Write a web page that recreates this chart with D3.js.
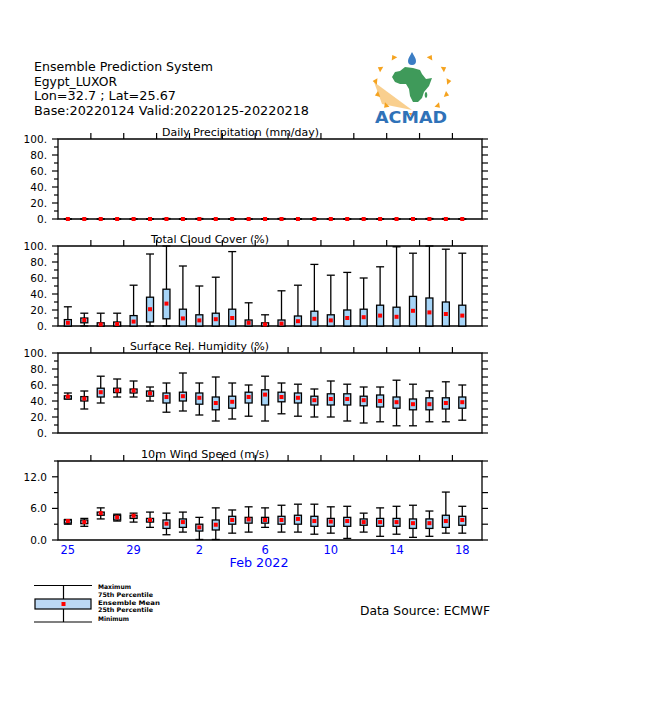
<!DOCTYPE html>
<html>
<head>
<meta charset="utf-8">
<script src="https://cdn.jsdelivr.net/npm/d3@7/dist/d3.min.js"></script>
<style>
  html, body { margin: 0; padding: 0; background: #fff; }
  svg { display: block; }
  text { font-family: "DejaVu Sans", "Liberation Sans", sans-serif; }
</style>
</head>
<body>
<svg id="chart" width="651" height="716"></svg>
<script>
// ---------------- DATA ----------------
const dates = ["2022-01-25","2022-01-26","2022-01-27","2022-01-28","2022-01-29","2022-01-30","2022-01-31",
  "2022-02-01","2022-02-02","2022-02-03","2022-02-04","2022-02-05","2022-02-06","2022-02-07","2022-02-08",
  "2022-02-09","2022-02-10","2022-02-11","2022-02-12","2022-02-13","2022-02-14","2022-02-15","2022-02-16",
  "2022-02-17","2022-02-18"];
const xTickLabels = ["25","29","2","6","10","14","18"];
const xTickIndex = [0,4,8,12,16,20,24];
const topTickDays = [1.4,3.4,5.4,7.4,9.4,11.4,13.4,15.4,17.4,19.4,21.4,23.4];

const headerLines = ["Ensemble Prediction System","Egypt_LUXOR","Lon=32.7 ; Lat=25.67","Base:20220124 Valid:20220125-20220218"];

// Daily precipitation (mm/day)
const precipMin  = [0,0,0,0,0,0,0,0,0,0,0,0,0,0,0,0,0,0,0,0,0,0,0,0,0];
const precipQ25  = [0,0,0,0,0,0,0,0,0,0,0,0,0,0,0,0,0,0,0,0,0,0,0,0,0];
const precipMean = [0,0,0,0,0,0,0,0,0,0,0,0,0,0,0,0,0,0,0,0,0,0,0,0,0];
const precipQ75  = [0,0,0,0,0,0,0.3,0,0.3,0,0,0,0,0.3,0,0,0,0,0,0,0,0,0.3,0.3,0];
const precipMax  = [0,0,0,0,0,0,0.6,0,0.6,0,0,0,0,0.6,0,0,0,0,0,0,0,0,0.6,0.6,0];

// Total cloud cover (%)
const cloudMin  = [0,0,0,0,0,0,0,0,0,0,0,0,0,0,0,0,0,0,0,0,0,0,0,0,0];
const cloudQ25  = [0,4,0,0,0,5,9,0,0,0,0,0,0,0,0,0,0,0,0,0,0,0,0,0,0];
const cloudMean = [4,7.5,2,2.5,5.5,21,28,9.5,7,8.5,10,4,2,3,6,9,7,10,11,13,11.5,19,17,15,13];
const cloudQ75  = [8,10,4,5,13,36,46,21,14,16,21,7.5,4,7.5,12.5,18.5,14,20,21,26,23.5,37,35,30,26];
const cloudMax  = [24,16,16,16,51,90,100,75,50,61,93,29,14,44,51,77,63.5,67,60,74,99,91,100,96,91];

// Surface relative humidity (%)
const humMin  = [42.5,30,37.5,45,45,40,26,27.5,22.5,15,17.5,21,15,24,21,20,20,15,12.5,14,9,9,14,14,16];
const humQ25  = [42.5,40,45,50.5,50,46,37.5,40,36,29,31,37.5,35,39,37.5,35,35,35,34,32.5,31,29,29,30,31];
const humMean = [45.5,43,51,53,53,49.5,45,46,44,37.5,39,45,48,45,44,41,42.5,42.5,41,40,38.5,36,36,37.5,38.5];
const humQ75  = [46.5,45.5,56,56,55,52.5,50,51,50,45,46,51,54,51,50,46,49,49,46,47.5,45,42.5,44,44,45];
const humMax  = [50,52.5,71,67.5,65,57.5,62.5,75,62.5,70,62.5,60,71,62.5,61,55,65,61,57.5,57.5,66,61,52.5,64,60];

// 10m wind speed (m/s)
const windMin  = [3.0,2.6,4.0,3.6,3.4,2.4,1.0,1.5,0.1,0.1,1.3,1.5,2.4,1.5,1.5,1.1,1.3,0.3,1.5,0.7,1.1,0.5,0.7,1.3,1.3];
const windQ25  = [3.2,3.1,4.7,3.8,4.1,3.4,2.2,2.4,1.7,1.9,3.0,3.2,3.2,3.0,3.0,2.6,2.6,2.6,2.8,2.6,2.6,2.2,2.2,2.4,2.8];
const windMean = [3.6,3.4,5.1,4.3,4.6,3.8,3.1,3.4,2.4,2.9,3.8,3.9,3.8,3.8,4.0,3.6,3.5,3.6,3.4,3.4,3.4,3.2,3.2,3.6,3.8];
const windQ75  = [3.8,3.8,5.3,4.7,4.7,4.1,3.8,4.0,3.0,3.8,4.5,4.3,4.3,4.5,4.7,4.5,4.1,4.3,4.0,4.1,4.1,4.0,4.0,4.7,4.5];
const windMax  = [3.9,4.1,6.1,4.9,5.1,5.3,5.1,5.3,4.3,6.1,5.7,6.3,6.1,6.6,6.8,6.8,6.3,6.4,5.1,6.1,6.4,6.6,5.5,9.1,6.4];

const legendLabels = ["Maximum","75th Percentile","Ensemble Mean","25th Percentile","Minimum"];

// ---------------- DRAW ----------------
const svg = d3.select("#chart");
svg.append("rect").attr("width",651).attr("height",716).attr("fill","#fff");

const BOX_FILL = "#a6d4f7";
const RED = "#ff0000";
const X0 = 58, X1 = 482;
const x = d3.scaleLinear().domain([-0.6, 25.2]).range([X0, X1]);

// header
const headerWidths = [179, 83, 142, 275];
headerLines.forEach((t,i) => {
  svg.append("text").attr("x",34).attr("y",71 + i*14.7)
    .attr("font-size",12.5).attr("fill","#000")
    .attr("textLength",headerWidths[i]).attr("lengthAdjust","spacingAndGlyphs")
    .text(t);
});

// panels
const panels = [
  {title:"Daily Precipitation (mm/day)", tx:162, tw:157, top:139, bottom:219, domain:[0,100],
   major:[0,20,40,60,80,100], minor:d3.range(0,101,10), fmt:d=>d+".",
   mn:precipMin,q25:precipQ25,mean:precipMean,q75:precipQ75,mx:precipMax},
  {title:"Total Cloud Cover (%)", tx:151, tw:118, top:246, bottom:326, domain:[0,100],
   major:[0,20,40,60,80,100], minor:d3.range(0,101,10), fmt:d=>d+".",
   mn:cloudMin,q25:cloudQ25,mean:cloudMean,q75:cloudQ75,mx:cloudMax},
  {title:"Surface Rel. Humidity (%)", tx:130, tw:139, top:353, bottom:433, domain:[0,100],
   major:[0,20,40,60,80,100], minor:d3.range(0,101,10), fmt:d=>d+".",
   mn:humMin,q25:humQ25,mean:humMean,q75:humQ75,mx:humMax},
  {title:"10m Wind Speed (m/s)", tx:141, tw:128, top:461, bottom:540, domain:[0,15],
   major:[0,6,12], minor:[0,3,6,9,12,15], fmt:d=>d.toFixed(1),
   mn:windMin,q25:windQ25,mean:windMean,q75:windQ75,mx:windMax}
];

panels.forEach((p, pi) => {
  const g = svg.append("g");
  const y = d3.scaleLinear().domain(p.domain).range([p.bottom, p.top]);

  // frame
  g.append("path")
    .attr("d", `M${X0},${p.top}H${X1}V${p.bottom}H${X0}Z`)
    .attr("fill","none").attr("stroke","#000").attr("stroke-width",1.3);

  // left ticks
  p.minor.forEach(v => {
    const isMajor = p.major.includes(v);
    g.append("line").attr("x1", X0 - (isMajor ? 6 : 4)).attr("x2", X0)
      .attr("y1", y(v)).attr("y2", y(v)).attr("stroke","#000").attr("stroke-width",1.2);
    // right ticks (outward)
    g.append("line").attr("x1", X1).attr("x2", X1 + 6)
      .attr("y1", y(v)).attr("y2", y(v)).attr("stroke","#000").attr("stroke-width",1.2);
  });
  p.major.forEach(v => {
    g.append("text").attr("x", 47).attr("y", y(v) + 4)
      .attr("text-anchor","end").attr("font-size",10.5).attr("fill","#000")
      .text(p.fmt(v));
  });
  // top ticks (outward)
  topTickDays.forEach(d => {
    g.append("line").attr("x1", x(d)).attr("x2", x(d))
      .attr("y1", p.top - 6).attr("y2", p.top).attr("stroke","#000").attr("stroke-width",1.2);
  });

  // title
  g.append("text").attr("x", p.tx).attr("y", p.top - 3)
    .attr("font-size",11).attr("fill","#000")
    .attr("textLength", p.tw).attr("lengthAdjust","spacingAndGlyphs")
    .text(p.title);

  // boxes
  const bw = 7, cw = 8;
  dates.forEach((dt, i) => {
    const cx = x(i);
    const yMax = y(p.mx[i]), yMin = y(p.mn[i]), y75 = y(p.q75[i]), y25 = y(p.q25[i]);
    g.append("line").attr("x1",cx).attr("x2",cx).attr("y1",yMax).attr("y2",y75)
      .attr("stroke","#000").attr("stroke-width",1.3);
    g.append("line").attr("x1",cx).attr("x2",cx).attr("y1",y25).attr("y2",yMin)
      .attr("stroke","#000").attr("stroke-width",1.3);
    g.append("line").attr("x1",cx-cw/2).attr("x2",cx+cw/2).attr("y1",yMax).attr("y2",yMax)
      .attr("stroke","#000").attr("stroke-width",1.3);
    g.append("line").attr("x1",cx-cw/2).attr("x2",cx+cw/2).attr("y1",yMin).attr("y2",yMin)
      .attr("stroke","#000").attr("stroke-width",1.3);
    if (y25 - y75 > 0.5) {
      g.append("rect").attr("x",cx-bw/2).attr("y",y75).attr("width",bw).attr("height",y25-y75)
        .attr("fill",BOX_FILL).attr("stroke","#000").attr("stroke-width",1.3);
    }
    g.append("rect").attr("x",cx-2).attr("y",y(p.mean[i])-2).attr("width",4).attr("height",4)
      .attr("fill",RED);
  });

  if (pi === panels.length - 1) {
    xTickIndex.forEach((idx, k) => {
      g.append("text").attr("x", x(idx)).attr("y", p.bottom + 14)
        .attr("text-anchor","middle").attr("font-size",11.5).attr("fill","#0000ff")
        .text(xTickLabels[k]);
    });
    g.append("text").attr("x", 259).attr("y", p.bottom + 27)
      .attr("text-anchor","middle").attr("font-size",12).attr("fill","#0000ff")
      .attr("textLength",59).attr("lengthAdjust","spacingAndGlyphs")
      .text("Feb 2022");
  }
});

// legend
const lg = svg.append("g");
lg.append("line").attr("x1",34).attr("x2",92).attr("y1",585.5).attr("y2",585.5).attr("stroke","#000").attr("stroke-width",1.2);
lg.append("line").attr("x1",34).attr("x2",92).attr("y1",622).attr("y2",622).attr("stroke","#000").attr("stroke-width",1.2);
lg.append("line").attr("x1",63.5).attr("x2",63.5).attr("y1",585.5).attr("y2",622).attr("stroke","#000").attr("stroke-width",1.2);
lg.append("rect").attr("x",35).attr("y",599).attr("width",56).attr("height",10)
  .attr("fill","#bcd8f4").attr("stroke","#000").attr("stroke-width",1.2);
lg.append("rect").attr("x",61.5).attr("y",602).attr("width",4).attr("height",4).attr("fill",RED);
const lgY = [588.5, 597, 604.5, 611.5, 620.5];
const lgW = [33, 55, 62, 55, 31];
legendLabels.forEach((t,i) => {
  lg.append("text").attr("x",98).attr("y",lgY[i]).attr("font-size",6.3).attr("font-weight","bold")
    .attr("fill","#000").attr("textLength",lgW[i]).attr("lengthAdjust","spacingAndGlyphs").text(t);
});

svg.append("text").attr("x",360).attr("y",614.5).attr("font-size",12).attr("fill","#000")
  .attr("textLength",130).attr("lengthAdjust","spacingAndGlyphs").text("Data Source: ECMWF");

// ---------------- LOGO (ACMAD) ----------------
const logo = svg.append("g");
const lcx = 412, lcy = 84;
logo.append("path")
  .attr("d", `M${lcx},${lcy+26} L${lcx-38},${lcy-2} L${lcx-30},${lcy+20} Z`)
  .attr("fill","#f8c77a").attr("opacity",0.85);
const rayAngles = [-120,-150,-175,160,135,-60,-30,-5,20,45,90];
rayAngles.forEach(a => {
  const r = a * Math.PI/180;
  const rx = 35, ry = 29;
  const px = lcx + rx*Math.cos(r), py = lcy + ry*Math.sin(r);
  const s = 3.2;
  const ox = Math.cos(r), oy = Math.sin(r);
  const tx = -oy, ty = ox;
  logo.append("path")
    .attr("d", `M${px+ox*s*1.4},${py+oy*s*1.4} L${px+tx*s},${py+ty*s} L${px-tx*s},${py-ty*s} Z`)
    .attr("fill","#f5a31f");
});
const af = [[8,6],[13,2],[21,3],[28,5],[30,9],[34,14],[40,13],[37,21],[32,27],[30,33],[26,37],[21,37],[18,31],[17,24],[14,19],[8,19],[3,17],[0,12],[3,7]];
const ax0 = 392, ay0 = 65;
logo.append("path")
  .attr("d", d3.line()(af.map(p => [ax0 + p[0], ay0 + p[1]])) + "Z")
  .attr("fill","#3f9a5a");
logo.append("ellipse").attr("cx",ax0+34).attr("cy",ay0+30).attr("rx",1.3).attr("ry",3).attr("fill","#3f9a5a");
logo.append("path")
  .attr("d", `M412,52 C414,56 416,58 416,61 A4,4 0 1 1 408,61 C408,58 410,56 412,52 Z`)
  .attr("fill","#3b7dc4");
logo.append("text").attr("x",375).attr("y",122.5).attr("font-size",15).attr("font-weight","bold")
  .attr("fill","#2f72b8").attr("textLength",72).attr("lengthAdjust","spacingAndGlyphs")
  .attr("font-family","Liberation Sans, Arial, sans-serif").text("ACMAD");
</script>
</body>
</html>
